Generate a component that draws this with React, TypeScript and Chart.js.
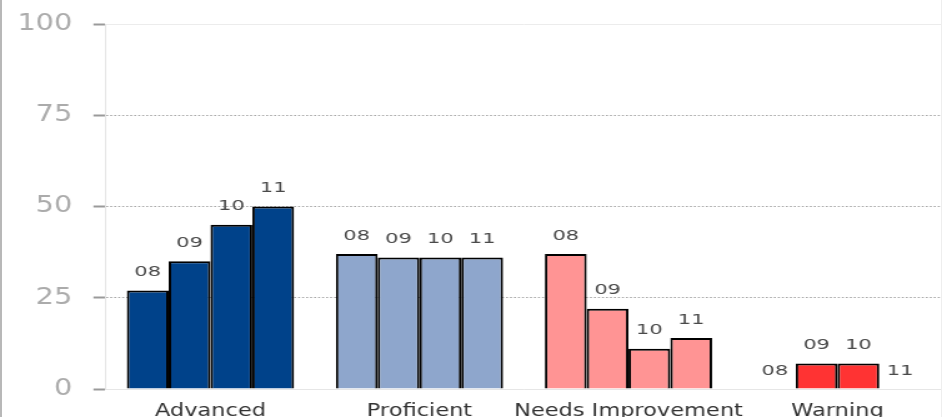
import React, { useEffect, useRef } from "react";
import { Chart, registerables } from "chart.js";

Chart.register(...registerables);

// Performance levels along the x axis
const categories = ["Advanced", "Proficient", "Needs Improvement", "Warning"];
// One series per school year
const seriesLabels = ["08", "09", "10", "11"];
const values08 = [27, 37, 37, 0];
const values09 = [35, 36, 22, 7];
const values10 = [45, 36, 11, 7];
const values11 = [50, 36, 14, 0];
const yTicks = [0, 25, 50, 75, 100];

const categoryColors = ["#00428A", "#8EA6CC", "#FF9494", "#FF3333"];

const CANVAS_W = 754;
const CANVAS_H = 417;
const STRETCH_X = 942 / CANVAS_W;

const FONT = "'DejaVu Sans', Verdana, sans-serif";

// Year label above each bar
const barYearLabels = {
  id: "barYearLabels",
  afterDatasetsDraw(chart: any) {
    const ctx = chart.ctx;
    ctx.save();
    ctx.fillStyle = "#4a4a4a";
    ctx.font = `14px ${FONT}`;
    ctx.textAlign = "center";
    ctx.textBaseline = "middle";
    chart.data.datasets.forEach((ds: any, i: number) => {
      const meta = chart.getDatasetMeta(i);
      meta.data.forEach((el: any) => {
        ctx.save();
        ctx.translate(el.x, el.y - 18);
        ctx.scale(1.2, 1);
        ctx.fillText(ds.label, 0, 0);
        ctx.restore();
      });
    });
    ctx.restore();
  },
};

export default function App() {
  const canvasRef = useRef<HTMLCanvasElement | null>(null);

  useEffect(() => {
    const canvas = canvasRef.current;
    if (!canvas) return;
    const seriesValues = [values08, values09, values10, values11];
    const chart = new Chart(canvas, {
      type: "bar",
      data: {
        labels: categories,
        datasets: seriesLabels.map((label, i) => ({
          label,
          data: seriesValues[i],
          backgroundColor: categoryColors,
          borderColor: "#000000",
          borderWidth: 2,
          categoryPercentage: 0.8,
          barPercentage: 1.0,
        })),
      },
      options: {
        animation: false,
        responsive: false,
        devicePixelRatio: 1,
        layout: { padding: { top: 24, left: 0, right: 0, bottom: 0 } },
        plugins: {
          legend: { display: false },
          tooltip: { enabled: false },
        },
        scales: {
          x: {
            grid: { display: false, drawTicks: false },
            border: { display: true, color: "#e6e6e6", width: 1 },
            ticks: {
              color: "#333333",
              font: { family: FONT, size: 18 },
              padding: 12,
              maxRotation: 0,
              autoSkip: false,
            },
            afterFit(scale: any) {
              scale.height = 28;
            },
          },
          y: {
            min: 0,
            max: 100,
            afterBuildTicks(scale: any) {
              scale.ticks = yTicks.map((v) => ({ value: v }));
            },
            grid: {
              color: (c: any) =>
                c.tick && (c.tick.value === 0 || c.tick.value === 100) ? "#ececec" : "#a8a8a8",
              lineWidth: 1,
              drawTicks: true,
              tickLength: 10,
              tickColor: "#9a9a9a",
              tickWidth: 2,
            },
            border: {
              display: true,
              color: "#e6e6e6",
              width: 1,
              dash: (c: any) =>
                c.tick && (c.tick.value === 0 || c.tick.value === 100) ? [] : [1.6, 1.6],
            },
            ticks: {
              color: "#ababab",
              font: { family: FONT, size: 23 },
              padding: 17,
            },
            afterFit(scale: any) {
              scale.width = 84.8;
              scale.paddingTop = 12;
              scale.paddingBottom = 12;
            },
          },
        },
      },
      plugins: [barYearLabels],
    });
    return () => chart.destroy();
  }, []);

  return (
    <div
      style={{
        position: "absolute",
        left: 0,
        top: 0,
        width: 942,
        height: 417,
        overflow: "hidden",
        background: "#ffffff",
      }}
    >
      <div
        style={{
          position: "absolute",
          left: 0,
          top: 0,
          width: CANVAS_W,
          height: CANVAS_H,
          transform: `scaleX(${STRETCH_X})`,
          transformOrigin: "0 0",
        }}
      >
        <canvas ref={canvasRef} width={CANVAS_W} height={CANVAS_H} style={{ display: "block" }} />
      </div>
      <div
        style={{
          position: "absolute",
          left: 0,
          top: 0,
          width: 2,
          height: 417,
          background: "#b8b8b8",
        }}
      />
      <div
        style={{
          position: "absolute",
          right: 0,
          top: 0,
          width: 1,
          height: 417,
          background: "#eeeeee",
        }}
      />
    </div>
  );
}
